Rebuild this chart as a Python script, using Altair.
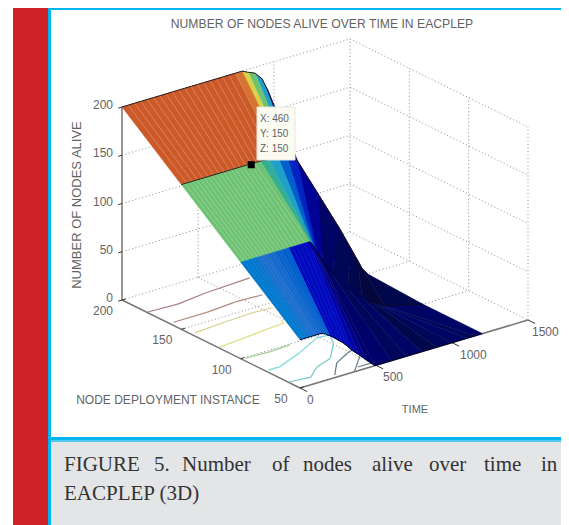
import altair as alt
import pandas as pd

W, H = 553, 517
OFF = 8

# ---- values ----
T_TICKS = [0, 500, 1000, 1500]
T_LABEL_DX = [7, 7, 8, 4]
N_TICKS = [200, 150, 100, 50]
Z_TICKS = [0, 50, 100, 150, 200]

ROW_N = [200, 150, 100, 50]
T_200 = [0,41,83,124,166,207,248,290,331,373,414,455,497,538,580,621,662,704,745,790,830,875,921,960,1006,1060,1120,1160,1185,1195,1200]
Z_200 = [200,200,200,200,200,200,200,200,200,200,200,200,200,200,200,200,200,200,200,200,197,194,186,172,150,115,70,42,20,8,0]
# the N=150 row as the far band meets it
T_150B = [0,35,71,106,141,177,212,247,282,318,353,388,424,459,494,530,565,600,636,671,690,710,730,750,763,900,1043,1120,1160,1190,1224]
Z_150B = [150,150,150,150,150,150,150,150,150,150,150,150,150,150,150,150,150,150,149,148,147,146,146,145,139,98,55,30,17,7,0]
T_150 = [0,25,50,76,101,126,152,177,202,228,253,278,304,329,354,380,405,430,455,480,520,577,640,700,763,900,1043,1120,1160,1190,1224]
Z_150 = [150,150,150,150,150,150,150,150,150,150,150,150,150,150,150,150,150,150,150,150,150,149,147,145,139,98,55,30,17,7,0]
T_100 = [0,23,45,68,90,113,135,158,180,203,225,248,270,293,316,342,368,394,420,447,460,470,480,490,505,540,600,700,800,950,1200]
Z_100 = [100,100,100,100,100,100,100,100,100,100,100,100,100,100,100,100,100,100,100,100,99,97,94,90,85,75,60,40,25,10,0]
T_50 = [0,14,28,42,56,70,84,98,112,126,140,155,169,183,197,220,250,280,310,342,390,440,493,600,700,800,900,1000,1100,1150,1200]
Z_50 = [50,50,50,50,50,50,50,50,50,50,50,49,48,46,45,42,38,34,29,23,16,8,0,0,0,0,0,0,0,0,0]

SHADE_1 = [1,1,1,1,1,1,1,1,1,1,1,1,1,1,1,1,1,1,.95,.8,.7,.5,.3,.15,.05,.05,.05,.05,.05,.05]
SHADE_2 = [.7,.7,.7,.7,.7,.7,.7,.7,.7,.7,.7,.7,.7,.7,.7,.7,.7,.7,.7,.7,.6,.5,.37,.25,.15,.08,.05,.03,0,.03]
SHADE_3 = [.42,.42,.42,.41,.41,.4,.4,.4,.39,.39,.38,.38,.37,.37,.2,.2,.2,.2,.2,.17,.13,.1,.09,.06,.08,.03,.06,.08,.06,.08]

CONTOURS = [
    ([7, 200, 400, 708], [179, 178, 181, 183]),
    ([27, 250, 450, 620], [160, 160, 162, 161]),
    ([26, 250, 420, 553], [142, 144, 145, 144]),
    ([12, 200, 350, 470, 490], [119, 121, 123, 124, 128]),
    ([23, 170, 316], [99, 98, 99]),
    ([18, 92, 299, 485, 563], [79, 79, 88, 98, 97]),
    ([9, 132, 244, 372, 509, 563], [60, 58, 67, 72, 87, 97]),
    ([252, 359, 483, 529], [53, 65, 72, 74]),
    ([358, 470, 545], [50, 61, 68]),
    ([412, 503], [54, 54]),
]
CONTOUR_COLORS = ["#a87c88", "#b08a80", "#d8d090", "#dcdc78", "#a0d090", "#78d8d8", "#70c8c8",
                  "#5c7c88", "#6c7c88", "#6c7c88"]

TITLE = "NUMBER OF NODES ALIVE OVER TIME IN EACPLEP"
Y_LABEL = "NUMBER OF NODES ALIVE"
N_LABEL = "NODE DEPLOYMENT INSTANCE"
T_LABEL = "TIME"
TIP = [("X", 460), ("Y", 150), ("Z", 150)]
CAPTION_1 = ["FIGURE", "5.", "Number", "of", "nodes", "alive", "over", "time", "in"]
CAPTION_2 = "EACPLEP (3D)"
TEXT_GRAY = "#636363"


# ---- the MATLAB view: data space to page position ----
def pr(t, n, z):
    u = (200 - n) / 150
    return (122 + 178 * u + 228 * t / 1500, 300 + 88 * u - 68 * t / 1500 - 193 * z / 200)


X = alt.Scale(domain=[OFF, OFF + W], range=[0, W], nice=False, zero=False)
Y = alt.Scale(domain=[OFF, OFF + H], range=[0, H], nice=False, zero=False)
x_, y_, x2_, y2_ = (alt.X("x:Q", scale=X, axis=None), alt.Y("y:Q", scale=Y, axis=None),
                    alt.X2("x2:Q"), alt.Y2("y2:Q"))
ONE = pd.DataFrame({"a": [0]})
IDENT = dict(type="identity")
SHADES = alt.Scale(
    domain=[0, .1, .2, .3, .4, .5, .6, .7, .8, .9, 1],
    range=["#04063c", "#00006e", "#000abe", "#0f32c3", "#1e6ecd", "#1ea0c8", "#32af96",
           "#6ec373", "#d7d246", "#e18c3c", "#cc5a28"],
)


def segs(pairs, **mark):
    rows = [dict(x=a[0], y=a[1], x2=b[0], y2=b[1]) for a, b in pairs]
    return alt.Chart(pd.DataFrame(rows)).mark_rule(**mark).encode(x=x_, y=y_, x2=x2_, y2=y2_)


def band(ts1, zs1, n1, ts2, zs2, n2, shades):
    feats = []
    for i in reversed(range(len(shades))):
        ring = [pr(ts1[i], n1, zs1[i]), pr(ts1[i + 1], n1, zs1[i + 1]),
                pr(ts2[i + 1], n2, zs2[i + 1]), pr(ts2[i], n2, zs2[i])]
        ring = [[p[0] - OFF, p[1] - OFF] for p in ring]
        ring.append(ring[0])
        feats.append({"type": "Feature", "geometry": {"type": "Polygon", "coordinates": [ring]},
                      "properties": {"c": shades[i]}})
    return (alt.Chart(alt.Data(values=feats)).mark_geoshape(strokeWidth=0.5)
            .project(**IDENT)
            .encode(color=alt.Color("properties.c:Q", scale=SHADES, legend=None),
                    stroke=alt.Stroke("properties.c:Q", scale=SHADES, legend=None)))


def stripes(ts1, zs1, n1, ts2, zs2, n2, last):
    return segs([(pr(ts1[i], n1, zs1[i]), pr(ts2[i], n2, zs2[i])) for i in range(1, last)],
                color="#ffffff", opacity=0.3, strokeWidth=0.6)


def edge(ts, zs, n, first=0, color="#2a1c20", width=1.0):
    pts = [pr(t, n, z) for t, z in zip(ts, zs)][first:]
    return segs(list(zip(pts[:-1], pts[1:])), color=color, strokeWidth=width)


def txt(s, px, py, size=12, align="center", color=TEXT_GRAY, angle=0, font="Liberation Sans", **kw):
    return alt.Chart(ONE).mark_text(fontSize=size, align=align, baseline="middle", color=color,
                                    angle=angle, font=font, **kw).encode(
        x=alt.value(px - OFF), y=alt.value(py - OFF), text=alt.value(s))


def box(x0, x1, y0, y1, color, **kw):
    return alt.Chart(ONE).mark_rect(color=color, **kw).encode(
        x=alt.value(x0 - OFF), x2=alt.value(x1 - OFF), y=alt.value(y0 - OFF), y2=alt.value(y1 - OFF))


layers = []
BOTTOM = OFF + H
RIGHT = OFF + W

# invisible page-sized outline so the identity projection keeps page units
frame = {"type": "Feature", "properties": {},
         "geometry": {"type": "Polygon", "coordinates": [[[0, 0], [W, 0], [W, H], [0, H], [0, 0]]]}}
layers.append(alt.Chart(alt.Data(values=[frame])).mark_geoshape(fill="#ffffff", stroke=None).project(**IDENT))

# page furniture
layers += [
    box(13, 48, 8, BOTTOM, "#cd2027"),
    box(48, 51, 8, BOTTOM, "#00b4f0"),
    box(51, RIGHT, 8, 10, "#00b4f0"),
    box(51, RIGHT, 442, BOTTOM, "#e4e5e7"),
    box(48, RIGHT, 437, 442, "#00b4f0"),
    box(51, RIGHT, 440.5, 441.5, "#9fdcf2"),
]

# dotted walls and floor
grid = []
for z in Z_TICKS[1:]:
    grid += [(pr(0, 200, z), pr(1500, 200, z)), (pr(1500, 200, z), pr(1500, 50, z))]
grid += [(pr(0, 200, 0), pr(1500, 200, 0)), (pr(1500, 200, 0), pr(1500, 50, 0))]
for t in T_TICKS[1:]:
    grid.append((pr(t, 200, 0), pr(t, 200, 200)))
for n in N_TICKS[1:]:
    grid.append((pr(1500, n, 0), pr(1500, n, 200)))
for t in T_TICKS[1:3]:
    grid.append((pr(t, 200, 0), pr(t, 50, 0)))
for n in N_TICKS[1:3]:
    grid.append((pr(0, n, 0), pr(1500, n, 0)))
layers.append(segs(grid, color="#8c8c8c", strokeDash=[1, 2.5], strokeWidth=1))

# contours on the floor
for (ts, ns), col in zip(CONTOURS, CONTOUR_COLORS):
    pts = [pr(t, n, 0) for t, n in zip(ts, ns)]
    layers.append(segs(list(zip(pts[:-1], pts[1:])), color=col, strokeWidth=1.2))

# axes
axes = [(pr(0, 200, 0), pr(0, 200, 200)), (pr(0, 200, 0), pr(0, 50, 0)), (pr(0, 50, 0), pr(1500, 50, 0))]
ticks = [(pr(0, 200, z), pr(-25, 200, z)) for z in Z_TICKS]
ticks += [(pr(0, n, 0), pr(25, n, 0)) for n in N_TICKS]
ticks += [(pr(t, 50, 0), pr(t, 44, 0)) for t in T_TICKS]
layers.append(segs(axes, color="#757575", strokeWidth=1.5))
layers.append(segs(ticks, color="#333333", strokeWidth=1))

# surface, back to front
layers.append(band(T_200, Z_200, 200, T_150B, Z_150B, 150, SHADE_1))
layers.append(stripes(T_200, Z_200, 200, T_150B, Z_150B, 150, 19))
layers.append(edge(T_200, Z_200, 200))
layers.append(band(T_150, Z_150, 150, T_100, Z_100, 100, SHADE_2))
layers.append(stripes(T_150, Z_150, 150, T_100, Z_100, 100, 20))
layers.append(edge(T_150, Z_150, 150))
layers.append(band(T_100, Z_100, 100, T_50, Z_50, 50, SHADE_3))
layers.append(edge(T_100, Z_100, 100, first=19, color="#06062a"))
layers.append(edge(T_50, Z_50, 50, color="#06062a"))

# tick labels
rows = [dict(zip("xy", pr(0, 200, z)), s=str(z)) for z in Z_TICKS]
layers.append(alt.Chart(pd.DataFrame(rows)).mark_text(align="right", dx=-9, dy=-2, fontSize=12, color=TEXT_GRAY,
                                                      font="Liberation Sans").encode(x=x_, y=y_, text="s:N"))
rows = [dict(zip("xy", pr(0, n, 0)), s=str(n)) for n in N_TICKS]
layers.append(alt.Chart(pd.DataFrame(rows)).mark_text(align="center", dx=-19, dy=11, fontSize=12, color=TEXT_GRAY,
                                                      font="Liberation Sans").encode(x=x_, y=y_, text="s:N"))
for t, d in zip(T_TICKS, T_LABEL_DX):
    px, py = pr(t, 50, 0)
    layers.append(txt(str(t), px + d, py + 12, size=12, align="left"))

# titles
layers += [
    txt(TITLE, 322, 24, size=12.2),
    txt(Y_LABEL, 77, 205, size=13, angle=270),
    txt(N_LABEL, 168, 400, size=12),
    txt(T_LABEL, 415, 410, size=11),
]

# data tip
tip_x, tip_y = pr(TIP[0][1], TIP[1][1], TIP[2][1])
layers.append(alt.Chart(pd.DataFrame([dict(x=tip_x, y=tip_y + 1)])).mark_point(
    shape="square", filled=True, color="#000000", size=50, opacity=1).encode(x=x_, y=y_))
layers.append(box(257, 295, 107, 160, "#fbfbf2", stroke="#e6e6da", strokeWidth=1))
for (k, v), py in zip(TIP, [119, 134, 149]):
    layers.append(txt(f"{k}: {v}", 260, py, size=10, align="left"))

# caption
for word, px in zip(CAPTION_1, [64, 154, 182, 272, 303, 372, 429, 484, 541]):
    layers.append(txt(word, px, 465, size=21, align="left", color="#333333", font="Liberation Serif"))
layers.append(txt(CAPTION_2, 64, 494, size=21, align="left", color="#333333", font="Liberation Serif"))

chart = (alt.layer(*layers)
         .properties(width=W, height=H, padding=0, autosize=alt.AutoSizeParams(type="none"))
         .configure_view(stroke=None))
chart.save("out.html", embed_options={"renderer": "svg", "actions": False})
